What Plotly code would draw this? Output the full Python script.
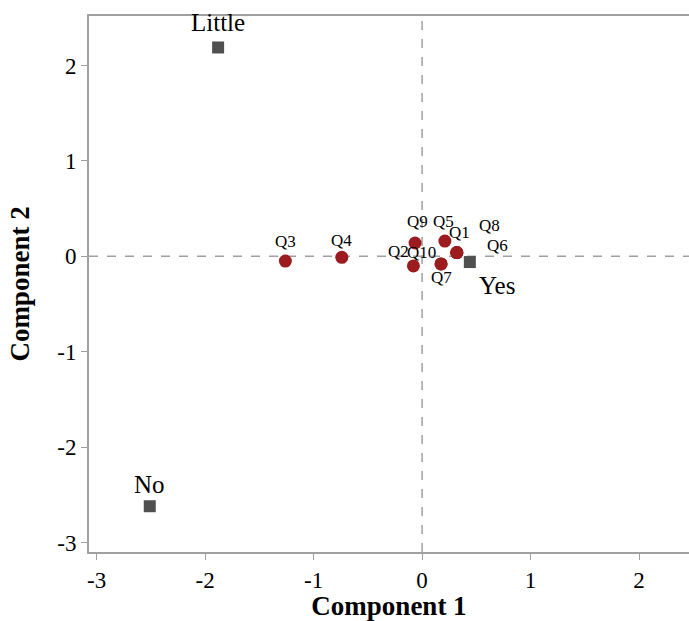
import plotly.graph_objects as go

# Question points (Component 1, Component 2)
q_names = ["Q1", "Q2", "Q3", "Q4", "Q5", "Q6", "Q7", "Q8", "Q9", "Q10"]
q_x = [0.32, -0.08, -1.26, -0.74, 0.21, 0.32, 0.175, 0.32, -0.065, 0.175]
q_y = [0.04, -0.10, -0.05, -0.01, 0.16, 0.04, -0.08, 0.04, 0.14, -0.08]

# Category points
c_names = ["Little", "No", "Yes"]
c_x = [-1.88, -2.51, 0.44]
c_y = [2.19, -2.62, -0.06]

x_ticks = [-3, -2, -1, 0, 1, 2]
x_ticktext = ["-3", "-2", "-1", "0", "1", "2"]
y_ticks = [-3, -2, -1, 0, 1, 2]
y_ticktext = ["-3", "-2", "-1", "0", "1", "2"]

# label pixel offsets (style)
q_off = {"Q1": (3, -20), "Q2": (-15, -14), "Q3": (0, -20), "Q4": (0, -17),
         "Q5": (-1, -20), "Q6": (41, -7), "Q7": (0, 14), "Q8": (33, -27),
         "Q9": (2, -21), "Q10": (-20, -11)}
c_off = {"Little": (0, -25), "No": (0, -22), "Yes": (27, 23)}

FONT = "Liberation Serif"

fig = go.Figure()
fig.add_trace(go.Scatter(x=q_x, y=q_y, mode="markers",
                         marker=dict(color="#9b1b1f", size=13, line=dict(width=0)),
                         hoverinfo="text", text=q_names, showlegend=False))
fig.add_trace(go.Scatter(x=c_x, y=c_y, mode="markers",
                         marker=dict(color="#505050", symbol="square", size=12, line=dict(width=0)),
                         hoverinfo="text", text=c_names, showlegend=False))

ann = []
for n, x, y in zip(q_names, q_x, q_y):
    dx, dy = q_off[n]
    ann.append(dict(x=x, y=y, text=n, showarrow=True, arrowcolor="rgba(0,0,0,0)",
                    ax=dx, ay=dy, font=dict(family=FONT, size=17, color="black")))
for n, x, y in zip(c_names, c_x, c_y):
    dx, dy = c_off[n]
    ann.append(dict(x=x, y=y, text=n, showarrow=True, arrowcolor="rgba(0,0,0,0)",
                    ax=dx, ay=dy, font=dict(family=FONT, size=25, color="black")))

fig.update_layout(
    width=689, height=621,
    margin=dict(l=89, r=0, t=16, b=69),
    plot_bgcolor="white", paper_bgcolor="white",
    font=dict(family=FONT, size=22, color="black"),
    annotations=ann,
    shapes=[
        dict(type="line", xref="x", yref="paper", x0=0, x1=0, y0=0, y1=1,
             line=dict(color="#a0a0a0", width=1.5, dash="dash"), layer="below"),
        dict(type="line", xref="paper", yref="y", x0=0, x1=1, y0=0, y1=0,
             line=dict(color="#a0a0a0", width=1.5, dash="dash"), layer="below"),
    ],
)
fig.update_xaxes(range=[-3.07, 2.46], tickvals=x_ticks, ticktext=x_ticktext,
                 showgrid=False, zeroline=False, showline=True, linecolor="#a0a0a0",
                 linewidth=2, mirror=True, ticks="outside", ticklen=6, tickcolor="#a0a0a0",
                 tickfont=dict(family=FONT, size=23), automargin=False,
                 title=dict(text="<b>Component 1</b>", font=dict(family=FONT, size=27), standoff=16))
fig.update_yaxes(range=[-3.1, 2.52], tickvals=y_ticks, ticktext=y_ticktext,
                 showgrid=False, zeroline=False, showline=True, linecolor="#a0a0a0",
                 linewidth=2, ticks="outside", ticklen=6, tickcolor="#a0a0a0",
                 tickfont=dict(family=FONT, size=23), automargin=False,
                 title=dict(text="<b>Component 2</b>", font=dict(family=FONT, size=27), standoff=20))

fig.write_html("out.html")
